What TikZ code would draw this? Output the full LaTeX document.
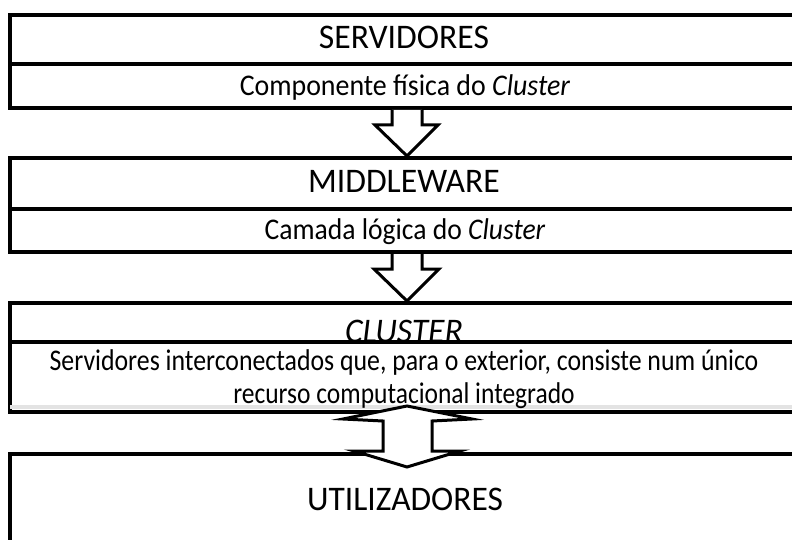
\documentclass[tikz,border=0pt]{standalone}
\usepackage{graphicx}
\usepackage{fontspec}
\setmainfont{Carlito}
\usetikzlibrary{calc}
\tikzset{
  layer/.style={draw=black, line width=4pt, fill=white, inner sep=0pt, minimum width=794pt},
  divline/.style={draw=black, line width=4pt},
  shadowline/.style={draw=black!11, line width=4pt},
  blockarrow/.style={draw=black, line width=3pt, fill=white, line join=miter},
  title/.style={anchor=base, inner sep=0pt, font=\fontsize{34.5}{40}\selectfont},
  sub/.style={anchor=base, inner sep=0pt, font=\fontsize{30}{35}\selectfont}
}
\begin{document}
\begin{tikzpicture}[x=1pt,y=-1pt]
\useasboundingbox (0,0) rectangle (792,540);
\clip (0,0) rectangle (792,540);
\fill[white] (0,0) rectangle (792,540);
% layer boxes
\node[layer, minimum height=93pt] (box1) at (407,61.5) {};
\node[layer, minimum height=94pt] (box2) at (407,205) {};
\node[layer, minimum height=109pt] (box3) at (407,357.5) {};
\node[layer, minimum height=160pt] (box4) at (407,534) {};
% dividers
\coordinate (d1) at (0,64.5);
\coordinate (d2) at (0,209);
\coordinate (d3) at (0,342);
\coordinate (g3) at (0,407);
\draw[divline] (box1.west |- d1) -- (box1.east |- d1);
\draw[divline] (box2.west |- d2) -- (box2.east |- d2);
\draw[shadowline] ($(box3.west |- g3)+(2,0)$) -- (box3.east |- g3);
% texts
\node[title] (t1) at (404,49) {\scalebox{0.975}[1]{SERVIDORES}};
\node[sub] (s1) at (405,96) {\scalebox{0.93}[1]{Componente física do \textit{Cluster}}};
\node[title] (t2) at (404,193) {\scalebox{0.975}[1]{MIDDLEWARE}};
\node[sub] (s2) at (405,239) {\scalebox{0.92}[1]{Camada lógica do \textit{Cluster}}};
\node[title] (t3) at (404,342) {\scalebox{0.975}[1]{\textit{CLUSTER}}};
\node[sub] (s3a) at (404,370) {\scalebox{0.86}[1]{Servidores interconectados que, para o exterior, consiste num único}};
\node[sub] (s3b) at (404,403) {\scalebox{0.85}[1]{recurso computacional integrado}};
\node[title] (t4) at (405,510) {\scalebox{0.97}[1]{UTILIZADORES}};
\draw[divline] (box3.west |- d3) -- (box3.east |- d3);
% arrow servidores -> middleware
\draw[blockarrow] ($(box1.south)+(-15,0)$) -- ($(box1.south)+(-15,15)$) -- ($(box1.south)+(-32,15)$)
  -- (box2.north) -- ($(box1.south)+(31,15)$) -- ($(box1.south)+(15,15)$) -- ($(box1.south)+(15,0)$);
% arrow middleware -> cluster
\draw[blockarrow] ($(box2.south)+(-15,0)$) -- ($(box2.south)+(-15,15)$) -- ($(box2.south)+(-33,15)$)
  -- (box3.north) -- ($(box2.south)+(32,15)$) -- ($(box2.south)+(15,15)$) -- ($(box2.south)+(15,0)$);
% double arrow cluster <-> utilizadores
\draw[blockarrow] ($(box3.south)+(0,-8)$) -- ($(box3.south)+(65,5)$) -- ($(box3.south)+(25,7)$)
  -- ($(box4.north)+(25,-1)$) -- ($(box4.north)+(53,-1)$) -- ($(box4.north)+(0,15)$)
  -- ($(box4.north)+(-53,-1)$) -- ($(box4.north)+(-24,-1)$) -- ($(box3.south)+(-24,7)$)
  -- ($(box3.south)+(-64,5)$) -- cycle;
\end{tikzpicture}
\end{document}
